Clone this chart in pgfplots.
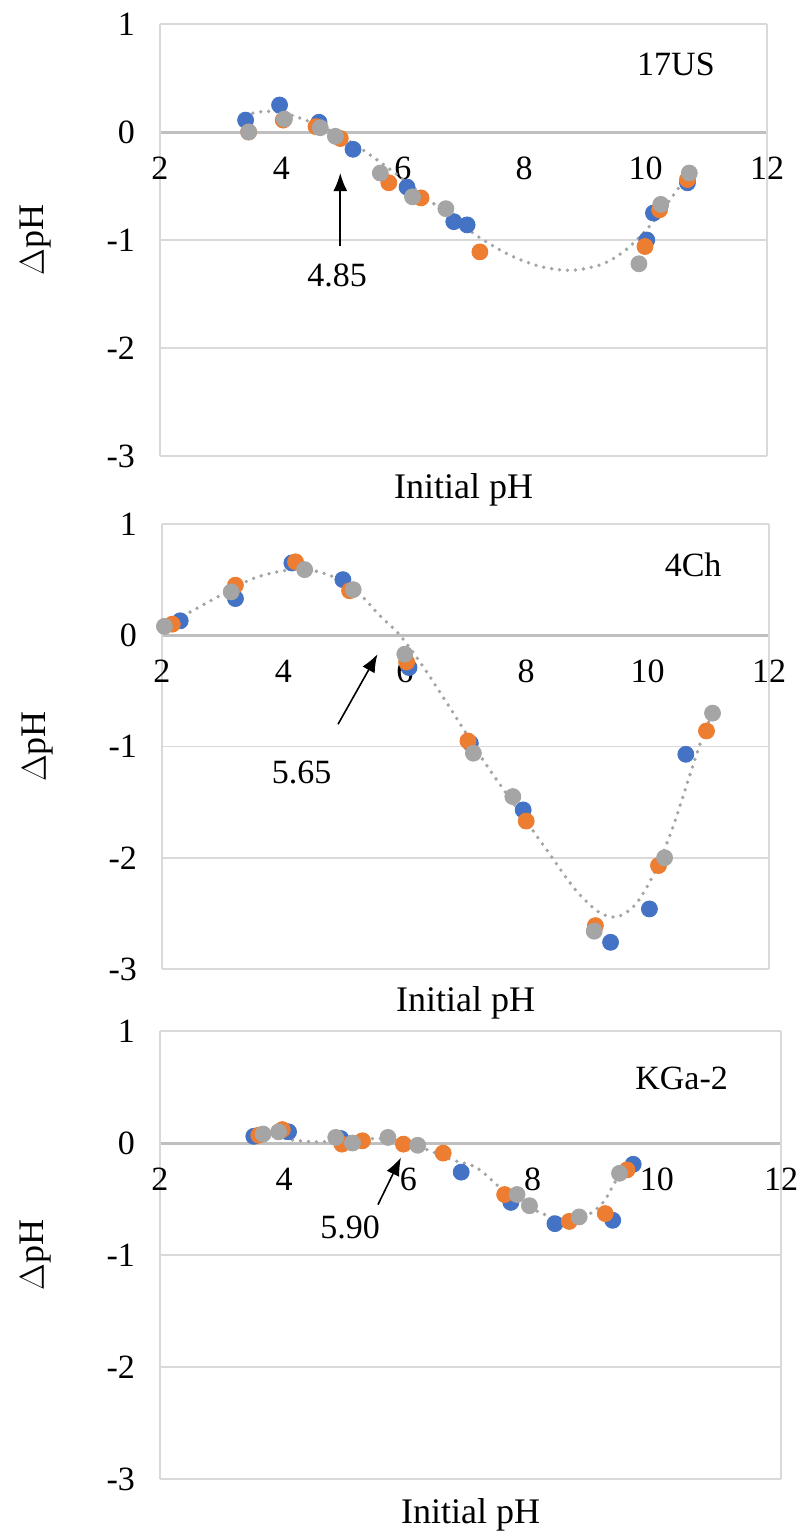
\documentclass[border=0pt]{standalone}
\usepackage{fontspec}
\setmainfont{Liberation Serif}
\usepackage{pgfplots}
\pgfplotsset{compat=1.18}
\usetikzlibrary{arrows.meta}
\definecolor{sblue}{HTML}{4472C4}
\definecolor{sorange}{HTML}{ED7D31}
\definecolor{sgray}{HTML}{A5A5A5}
\definecolor{gridc}{HTML}{D9D9D9}
\definecolor{zeroc}{HTML}{BFBFBF}
\pgfplotsset{
  panel/.style={
    scale only axis,
    xmin=2, xmax=12, ymin=-3, ymax=1,
    xtick={2,4,6,8,10,12}, xticklabels={2,4,6,8,10,12},
    ytick={-3,-2,-1,0,1}, yticklabels={-3,-2,-1,0,1},
    axis x line=middle, axis y line=box,
    hide obscured x ticks=false, hide obscured y ticks=false,
    x axis line style={color=zeroc, line width=1.5pt, -},
    y axis line style={color=gridc, line width=0.9pt, -},
    ymajorgrids, major grid style={color=gridc, line width=0.9pt},
    major tick length=0pt,
    tick label style={font=\fontsize{17}{20}\selectfont},
    xticklabel style={yshift=-9pt},
    yticklabel style={xshift=-9pt},
    label style={font=\fontsize{18}{21}\selectfont},
    xlabel={Initial pH},
    ylabel={$\Delta$pH},
    x label style={at={(axis description cs:0.5,0)}, anchor=north, yshift=-5pt},
    y label style={at={(axis description cs:0,0.5)}, anchor=center, yshift=62pt},
    clip=false,
  },
  pb/.style={only marks, mark=*, mark size=4pt, color=sblue, mark options={draw=none, fill=sblue}},
  po/.style={only marks, mark=*, mark size=4pt, color=sorange, mark options={draw=none, fill=sorange}},
  pg/.style={only marks, mark=*, mark size=4pt, color=sgray, mark options={draw=none, fill=sgray}},
  trend/.style={no marks, smooth, color=sgray, line width=1.9pt, line cap=round, dash pattern=on 0pt off 4pt},
}
\begin{document}
\begin{tikzpicture}
\useasboundingbox (0,0) rectangle (400pt,-769.5pt);
% ---------------- Panel 1: 17US
\begin{axis}[panel, at={(80pt,-228pt)}, anchor=south west, width=303.5pt, height=216pt]
\addplot[pb] coordinates {(3.41,0.11) (3.97,0.25) (4.62,0.09) (5.18,-0.16) (6.07,-0.51) (6.84,-0.83) (7.06,-0.86) (10.02,-1.00) (10.13,-0.75) (10.69,-0.47)};
\addplot[po] coordinates {(3.46,0.00) (4.03,0.11) (4.57,0.05) (4.97,-0.06) (5.77,-0.47) (6.30,-0.61) (7.27,-1.11) (9.99,-1.06) (10.23,-0.72) (10.69,-0.44)};
\addplot[pg] coordinates {(3.46,0.00) (4.05,0.12) (4.64,0.04) (4.89,-0.04) (5.63,-0.38) (6.16,-0.60) (6.71,-0.71) (9.89,-1.22) (10.25,-0.67) (10.72,-0.38)};
\addplot[trend] coordinates {(3.40,0.16) (3.70,0.19) (4.00,0.18) (4.40,0.11) (4.85,0.00) (5.30,-0.15) (5.80,-0.35) (6.30,-0.57) (6.80,-0.79) (7.30,-0.99) (7.80,-1.15) (8.30,-1.25) (8.80,-1.28) (9.30,-1.22) (9.70,-1.08) (10.10,-0.85) (10.40,-0.63) (10.72,-0.38)};
\node[font=\fontsize{17}{20}\selectfont] at (axis cs:10.5,0.63) {17US};
\draw[line width=0.8pt, -{Latex[length=9pt,width=7pt]}] (axis cs:4.97,-1.06) -- (axis cs:4.97,-0.38);
\node[font=\fontsize{17}{20}\selectfont] at (axis cs:4.92,-1.33) {4.85};
\end{axis}
% ---------------- Panel 2: 4Ch
\begin{axis}[panel, at={(81pt,-484.5pt)}, anchor=south west, width=303.5pt, height=222.5pt]
\addplot[pb] coordinates {(2.30,0.13) (3.21,0.33) (4.14,0.65) (4.98,0.50) (6.07,-0.29) (7.08,-0.97) (7.95,-1.57) (9.39,-2.76) (10.03,-2.46) (10.63,-1.07)};
\addplot[po] coordinates {(2.17,0.10) (3.21,0.45) (4.20,0.66) (5.09,0.40) (6.03,-0.24) (7.04,-0.95) (8.00,-1.67) (9.14,-2.61) (10.18,-2.07) (10.97,-0.86)};
\addplot[pg] coordinates {(2.04,0.08) (3.14,0.39) (4.35,0.59) (5.15,0.41) (6.00,-0.17) (7.13,-1.06) (7.78,-1.45) (9.12,-2.66) (10.28,-2.00) (11.07,-0.70)};
\addplot[trend] coordinates {(2.00,0.07) (2.50,0.22) (3.00,0.37) (3.50,0.51) (4.00,0.58) (4.40,0.59) (4.80,0.53) (5.20,0.40) (5.60,0.17) (5.92,0.00) (6.30,-0.28) (6.80,-0.70) (7.30,-1.13) (7.80,-1.52) (8.30,-1.90) (8.80,-2.28) (9.20,-2.49) (9.50,-2.53) (9.80,-2.42) (10.10,-2.15) (10.40,-1.75) (10.70,-1.25) (10.90,-0.92) (11.07,-0.70)};
\node[font=\fontsize{17}{20}\selectfont] at (axis cs:10.75,0.63) {4Ch};
\draw[line width=0.8pt, -{Latex[length=9pt,width=7pt]}] (axis cs:4.90,-0.80) -- (axis cs:5.55,-0.17);
\node[font=\fontsize{17}{20}\selectfont] at (axis cs:4.30,-1.23) {5.65};
\end{axis}
% ---------------- Panel 3: KGa-2
\begin{axis}[panel, at={(80pt,-739.5pt)}, anchor=south west, width=310.5pt, height=224pt, x label style={yshift=-1pt}]
\addplot[pb] coordinates {(3.51,0.06) (4.07,0.10) (4.91,0.04) (6.85,-0.26) (7.65,-0.53) (8.36,-0.72) (9.29,-0.69) (9.62,-0.19)};
\addplot[po] coordinates {(3.59,0.07) (3.97,0.12) (4.93,-0.01) (5.26,0.02) (5.92,-0.01) (6.56,-0.09) (7.55,-0.46) (8.59,-0.70) (9.17,-0.63) (9.52,-0.24)};
\addplot[pg] coordinates {(3.66,0.08) (3.91,0.10) (4.83,0.05) (5.10,0.00) (5.67,0.05) (6.15,-0.02) (7.75,-0.46) (7.95,-0.56) (8.75,-0.66) (9.40,-0.27)};
\addplot[trend] coordinates {(3.50,0.08) (3.80,0.07) (4.10,0.03) (4.50,0.01) (5.00,0.02) (5.50,0.04) (5.90,0.01) (6.30,-0.06) (6.70,-0.15) (7.10,-0.22) (7.50,-0.41) (7.90,-0.56) (8.30,-0.66) (8.60,-0.68) (8.90,-0.64) (9.15,-0.52) (9.35,-0.33) (9.55,-0.22)};
\node[font=\fontsize{17}{20}\selectfont] at (axis cs:10.4,0.58) {KGa-2};
\draw[line width=0.8pt, -{Latex[length=9pt,width=7pt]}] (axis cs:5.51,-0.55) -- (axis cs:5.88,-0.13);
\node[font=\fontsize{17}{20}\selectfont] at (axis cs:5.06,-0.75) {5.90};
\end{axis}
\end{tikzpicture}
\end{document}
